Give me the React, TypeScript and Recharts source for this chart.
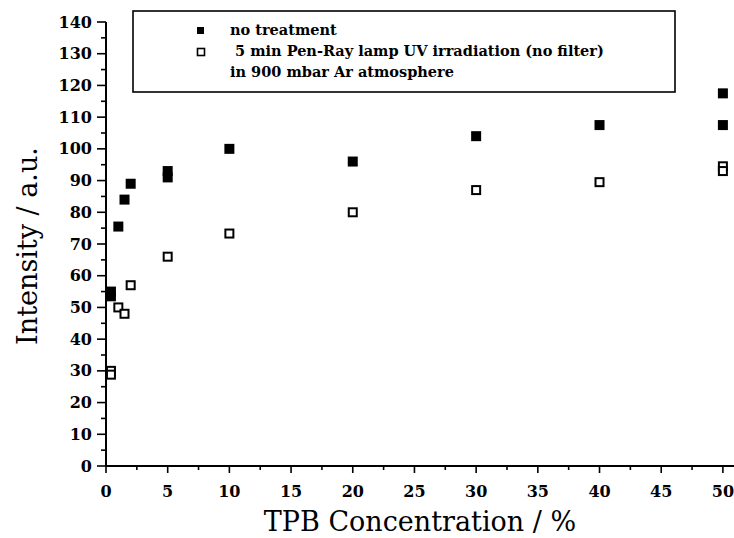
import React from 'react';
import { ScatterChart, Scatter, XAxis, YAxis } from 'recharts';

// Series: "no treatment" (filled squares)
const X_FILLED = [0.4, 0.4, 1, 1.5, 2, 5, 5, 10, 20, 30, 40, 50, 50];
const Y_FILLED = [55, 53.5, 75.5, 84, 89, 93, 91, 100, 96, 104, 107.5, 117.5, 107.5];

// Series: "5 min Pen-Ray lamp UV irradiation" (open squares)
const X_OPEN = [0.4, 0.4, 1, 1.5, 2, 5, 10, 20, 30, 40, 50, 50];
const Y_OPEN = [30, 28.8, 50, 48, 57, 66, 73.3, 80, 87, 89.5, 94.5, 93];

const X_TICKS = [0, 2.5, 5, 7.5, 10, 12.5, 15, 17.5, 20, 22.5, 25, 27.5, 30, 32.5, 35, 37.5, 40, 42.5, 45, 47.5, 50];
const Y_TICKS = [0, 5, 10, 15, 20, 25, 30, 35, 40, 45, 50, 55, 60, 65, 70, 75, 80, 85, 90, 95, 100, 105, 110, 115, 120, 125, 130, 135, 140];

const LEGEND_LABELS = [
  'no treatment',
  '\u00a05 min Pen-Ray lamp UV irradiation (no filter)',
  'in 900 mbar Ar atmosphere',
];

const X_TITLE = 'TPB Concentration / %';
const Y_TITLE = 'Intensity / a.u.';

const filledData = X_FILLED.map((x, i) => ({ x, y: Y_FILLED[i] }));
const openData = X_OPEN.map((x, i) => ({ x, y: Y_OPEN[i] }));

const SERIF = '"DejaVu Serif", serif';

const FilledSquare = (props: any) => {
  const { cx, cy } = props;
  if (cx == null || cy == null) return null;
  return <rect x={cx - 5} y={cy - 5} width={10} height={10} fill="#000" />;
};

const OpenSquare = (props: any) => {
  const { cx, cy } = props;
  if (cx == null || cy == null) return null;
  return <rect x={cx - 4} y={cy - 4} width={8} height={8} fill="#fff" stroke="#000" strokeWidth={2} />;
};

const YTick = (props: any) => {
  const { x, y, payload } = props;
  const v = payload.value;
  const major = v % 10 === 0;
  return (
    <g>
      <line x1={x} x2={x - (major ? 9 : 5)} y1={y} y2={y} stroke="#000" strokeWidth={1.6} />
      {major && (
        <text x={x - 14} y={y} dy={5.5} textAnchor="end" fontFamily={SERIF} fontWeight="bold" fontSize={16} fill="#000">
          {v}
        </text>
      )}
    </g>
  );
};

const XTick = (props: any) => {
  const { x, y, payload } = props;
  const v = payload.value;
  const major = v % 5 === 0;
  return (
    <g>
      <line x1={x} x2={x} y1={y} y2={y + (major ? 7 : 4)} stroke="#000" strokeWidth={1.6} />
      {major && (
        <text x={x} y={y + 31} textAnchor="middle" fontFamily={SERIF} fontWeight="bold" fontSize={16} fill="#000">
          {v}
        </text>
      )}
    </g>
  );
};

const YLabel = (props: any) => {
  const vb = props.viewBox || {};
  const cx = (vb.x || 0) + 37;
  const cy = (vb.y || 0) + (vb.height || 0) / 2 + 2;
  return (
    <text x={cx} y={cy} transform={`rotate(-90, ${cx}, ${cy})`} textAnchor="middle" fontFamily={SERIF} fontSize={27} fill="#000">
      {Y_TITLE}
    </text>
  );
};

const LegendBox = () => (
  <svg width={734} height={100} style={{ position: 'absolute', left: 0, top: 0, pointerEvents: 'none' }}>
    <rect x={133} y={11} width={542} height={81} fill="#fff" stroke="#000" strokeWidth={1.6} />
    <rect x={197} y={27} width={7} height={7} fill="#000" />
    <rect x={197.5} y={48.5} width={7} height={7} fill="#fff" stroke="#000" strokeWidth={1.6} />
    <text x={230} y={35} fontFamily={SERIF} fontWeight="bold" fontSize={14.5} fill="#000">{LEGEND_LABELS[0]}</text>
    <text x={230} y={56} fontFamily={SERIF} fontWeight="bold" fontSize={14.5} fill="#000">{LEGEND_LABELS[1]}</text>
    <text x={230} y={77} fontFamily={SERIF} fontWeight="bold" fontSize={14.5} fill="#000">{LEGEND_LABELS[2]}</text>
  </svg>
);

export default function App() {
  return (
    <div style={{ position: 'absolute', left: 0, top: 0, width: 734, height: 538, background: '#fff' }}>
      <ScatterChart width={734} height={538} margin={{ top: 22, right: 0, bottom: 0, left: 0 }}>
        <XAxis
          type="number"
          dataKey="x"
          domain={[0, 50.9]}
          ticks={X_TICKS}
          interval={0}
          allowDataOverflow
          tickLine={false}
          tickSize={0}
          tickMargin={0}
          axisLine={{ stroke: '#000', strokeWidth: 2 }}
          height={72}
          tick={<XTick />}
          label={{ value: X_TITLE, position: 'insideBottom', offset: 7, style: { fontFamily: SERIF, fontSize: 27, fill: '#000' } }}
        />
        <YAxis
          type="number"
          dataKey="y"
          domain={[0, 140]}
          ticks={Y_TICKS}
          interval={0}
          allowDataOverflow
          tickLine={false}
          tickSize={0}
          tickMargin={0}
          axisLine={{ stroke: '#000', strokeWidth: 2 }}
          width={106}
          tick={<YTick />}
          label={<YLabel />}
        />
        <Scatter name="no treatment" data={filledData} shape={<FilledSquare />} isAnimationActive={false} />
        <Scatter name="UV irradiation" data={openData} shape={<OpenSquare />} isAnimationActive={false} />
      </ScatterChart>
      <LegendBox />
    </div>
  );
}
